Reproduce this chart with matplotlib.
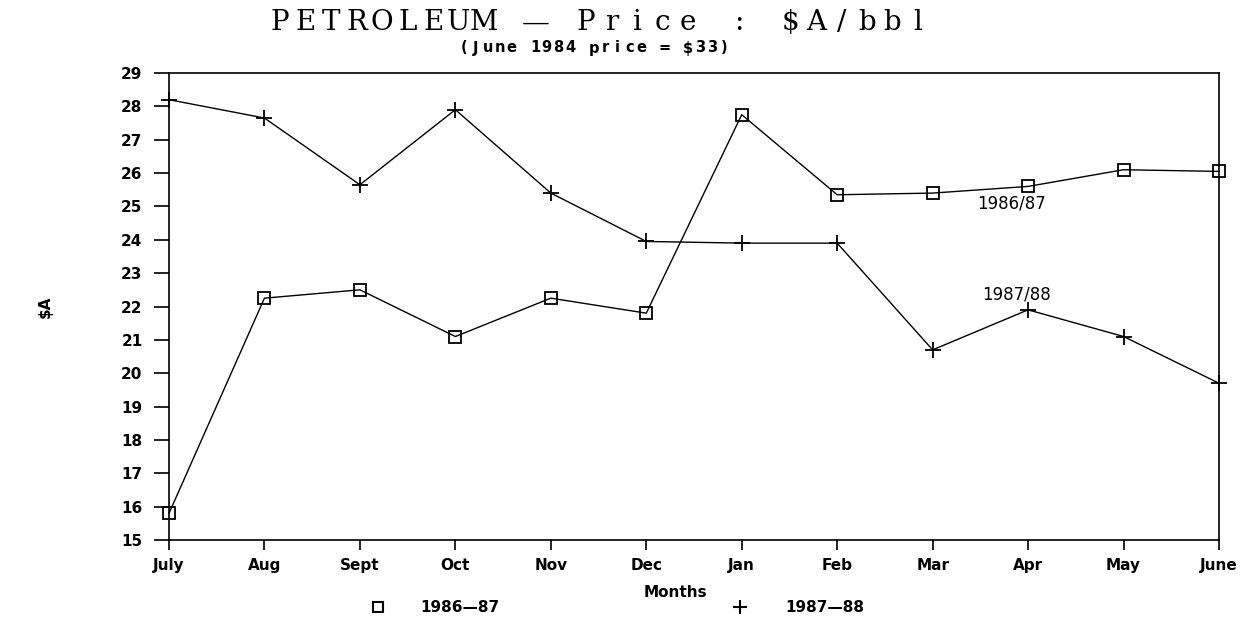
import matplotlib
matplotlib.use("Agg")
import matplotlib.pyplot as plt
from matplotlib.lines import Line2D
from matplotlib.transforms import offset_copy

months = ["July", "Aug", "Sept", "Oct", "Nov", "Dec", "Jan", "Feb", "Mar", "Apr", "May", "June"]
price_1986_87 = [15.8, 22.25, 22.5, 21.1, 22.25, 21.8, 27.75, 25.35, 25.4, 25.6, 26.1, 26.05]
price_1987_88 = [28.2, 27.65, 25.65, 27.9, 25.4, 23.95, 23.9, 23.9, 20.7, 21.9, 21.1, 19.7]
y_ticks = list(range(15, 30))
series_names = ["1986\u201487", "1987\u201488"]

W, H = 1243, 620
fig = plt.figure(figsize=(W / 100, H / 100), dpi=100)
ax = fig.add_axes([169 / W, 80 / H, 1050 / W, 467 / H])


def spaced(x_px, y_px, s, pitch, **kw):
    # plotter-style text: each char on a fixed pitch, centred on x_px
    n = len(s)
    for i, ch in enumerate(s):
        dx = (i - (n - 1) / 2) * pitch
        tr = offset_copy(fig.transFigure, fig=fig, x=dx, y=0, units="dots")
        fig.text(x_px / W, 1 - y_px / H, ch, transform=tr, ha="center", va="center", **kw)


x = list(range(len(months)))
ax.plot(x, price_1986_87, color="black", lw=1.0, marker="s", ms=8,
        mfc="none", mec="black", mew=1.3, clip_on=False)
ax.plot(x, price_1987_88, color="black", lw=1.0, marker="+", ms=11,
        mew=1.3, clip_on=False)

ax.set_xlim(0, len(months) - 1)
ax.set_ylim(15, 29)
ax.set_xticks(x)
ax.set_xticklabels(months, fontsize=11, fontweight="bold")
ax.set_yticks(y_ticks)
ax.set_yticklabels([str(v) for v in y_ticks], fontsize=11, fontweight="bold")
ax.tick_params(axis="x", direction="out", length=7, width=1.2, pad=6)
ax.tick_params(axis="y", direction="out", length=11, width=1.2, pad=8)
for s in ax.spines.values():
    s.set_linewidth(1.2)

ax.text(8.83, 25.1, "1986/87", fontsize=12, ha="center", va="center")
ax.text(8.88, 22.35, "1987/88", fontsize=12, ha="center", va="center")

ax.set_xlabel("Months", fontsize=11, fontweight="bold")
ax.xaxis.set_label_coords((675 - 169) / 1050, -(592 - 547) / 467)
ax.set_ylabel("$A", fontsize=11, fontweight="bold", rotation=90)
ax.yaxis.set_label_coords((53 - 169) / 1050, 0.5)

spaced(599, 23, "PETROLEUM \u2014 Price : $A/bbl", 25.5, fontsize=20, family="DejaVu Serif")
spaced(594, 48, "(June 1984 price = $33)", 11.8, fontsize=10.5, fontweight="bold")

# legend row along the bottom
leg_y = 1 - 607 / H
for mk, ms, mx, tx, name in [("s", 7, 378, 460, series_names[0]),
                             ("+", 10, 740, 825, series_names[1])]:
    fig.add_artist(Line2D([mx / W], [leg_y], transform=fig.transFigure, ls="none",
                          marker=mk, ms=ms, mfc="none", mec="black", mew=1.5))
    fig.text(tx / W, leg_y, name, ha="center", va="center", fontsize=11, fontweight="bold")

fig.savefig("out.png", dpi=100)
